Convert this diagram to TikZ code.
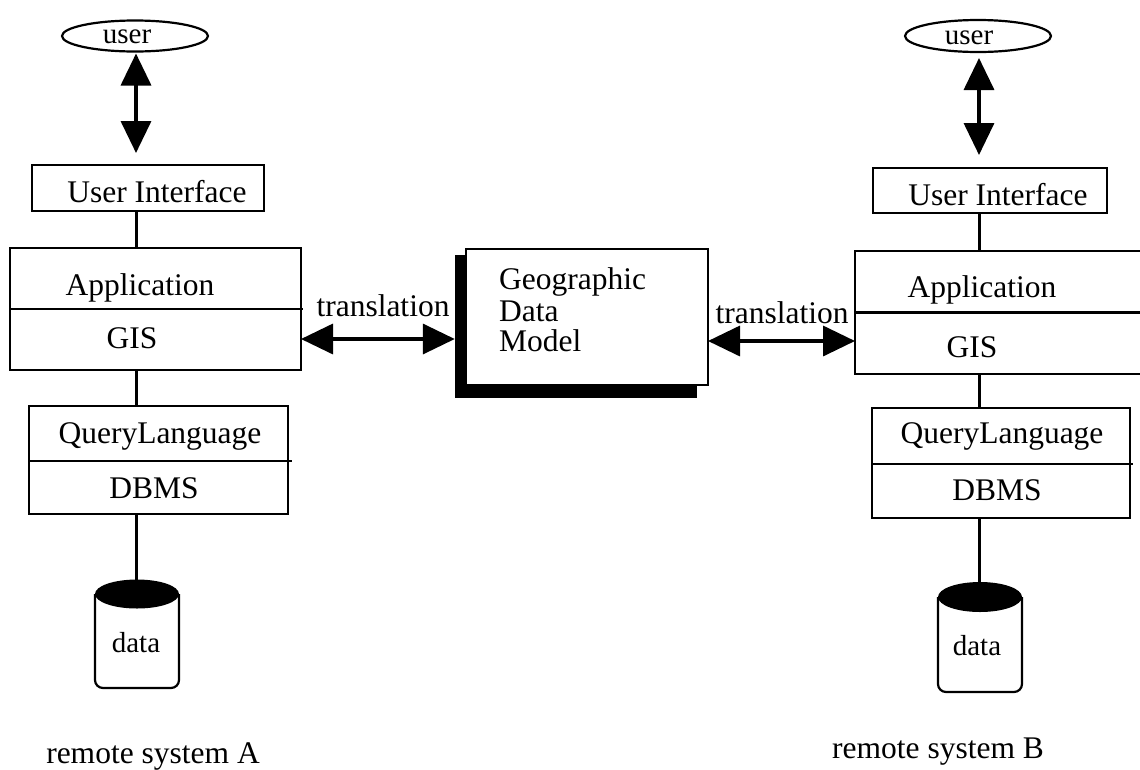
\documentclass[tikz,border=0pt]{standalone}
\usepackage{fontspec}
\setmainfont{Liberation Serif}
\usetikzlibrary{arrows.meta,shapes.geometric}
\begin{document}
\begin{tikzpicture}[x=1pt,y=-1pt,
  box/.style={draw, line width=2.2pt, fill=white, inner sep=0pt, outer sep=0pt},
  oval/.style={draw, ellipse, line width=2.2pt, inner sep=0pt, outer sep=0pt},
  lbl/.style={anchor=base, inner sep=0pt, font=\fontsize{31.5}{32}\selectfont},
  small/.style={lbl, font=\fontsize{29}{30}\selectfont},
  link/.style={line width=3pt},
  dbl/.style={line width=3.5pt, {Triangle[width=30pt,length=32pt]}-{Triangle[width=30pt,length=32pt]}},
  drum/.style={line width=2.2pt, rounded corners=8pt, fill=white}]
\useasboundingbox (0,0) rectangle (1140,769);
\clip (0,0) rectangle (1140,769);

% ---------- remote system A ----------
\coordinate (spA) at (136,0);
\node[oval, minimum width=146pt, minimum height=31pt] (userA) at (135,36) {};
\node[box, minimum width=232pt, minimum height=46pt] (uiA) at (148,188) {};
\node[box, minimum width=291pt, minimum height=122pt] (appA) at (155.5,309) {};
\node[box, minimum width=259pt, minimum height=108pt] (qlA) at (158.5,460) {};
\draw[line width=2.5pt] (appA.west) -- ++(293,0);
\draw[line width=2.5pt] (qlA.west |- 0,461) -- ++(263,0);

% database drum A
\draw[drum] (95,594) -- (95,688) -- (179,688) -- (179,594);
\fill (137,594) ellipse [x radius=42, y radius=14.5];
\coordinate (dbA) at (136,580);

\draw[dbl, shorten <=2pt, shorten >=12pt] (userA.south -| spA) -- (uiA.north -| spA);
\draw[link] (uiA.south -| spA) -- (appA.north -| spA);
\draw[link] (appA.south -| spA) -- (qlA.north -| spA);
\draw[link] (qlA.south -| spA) -- (dbA);

\node[small] (tuserA) at (127,43) {user};
\node[lbl] (tuiA) at (157,202) {User Interface};
\node[lbl] (tappA) at (140,295) {Application};
\node[lbl] (tgisA) at (132,348) {GIS};
\node[lbl] (tqlA) at (160,443) {QueryLanguage};
\node[lbl] (tdbA) at (154,498) {DBMS};
\node[small] (tdataA) at (136,652) {data};
\node[lbl] (remA) at (153,763) {remote system A};

% ---------- shared data model ----------
\node[fill=black, inner sep=0pt, minimum width=242pt, minimum height=143pt] (geoS) at (576,326.5) {};
\node[box, minimum width=242pt, minimum height=136pt] (geo) at (587,317) {};
\node[lbl, anchor=base west] (g1) at (499,289) {Geographic};
\node[lbl, anchor=base west] (g2) at (499,321) {Data};
\node[lbl, anchor=base west] (g3) at (499,351) {Model};

% ---------- remote system B ----------
\coordinate (spB) at (979,0);
\node[oval, minimum width=146pt, minimum height=32pt] (userB) at (978,36) {};
\node[box, minimum width=234pt, minimum height=45pt] (uiB) at (990,190.5) {};
\node[box, minimum width=305pt, minimum height=123pt] (appB) at (1007.5,312.5) {};
\node[box, minimum width=258pt, minimum height=110pt] (qlB) at (1001,463) {};
\draw[line width=2.5pt] (appB.west) -- ++(310,0);
\draw[line width=2.5pt] (qlB.west |- 0,464) -- ++(261,0);

% database drum B
\draw[drum] (938,597) -- (938,692) -- (1022,692) -- (1022,597);
\fill (980,597) ellipse [x radius=42, y radius=15];
\coordinate (dbB) at (979,582);

\draw[dbl, shorten <=6pt, shorten >=13pt] (userB.south -| spB) -- (uiB.north -| spB);
\draw[link] (uiB.south -| spB) -- (appB.north -| spB);
\draw[link] (appB.south -| spB) -- (qlB.north -| spB);
\draw[link] (qlB.south -| spB) -- (dbB);

\node[small] (tuserB) at (969,44) {user};
\node[lbl] (tuiB) at (998,205) {User Interface};
\node[lbl] (tappB) at (982,297) {Application};
\node[lbl] (tgisB) at (972,357) {GIS};
\node[lbl] (tqlB) at (1002,443) {QueryLanguage};
\node[lbl] (tdbB) at (997,500) {DBMS};
\node[small] (tdataB) at (977,655) {data};
\node[lbl] (remB) at (938,758) {remote system B};

% ---------- translations ----------
\coordinate (trA) at (0,339);
\coordinate (trB) at (0,341);
\draw[dbl] (appA.east |- trA) -- (geoS.west |- trA);
\draw[dbl] (geo.east |- trB) -- (appB.west |- trB);
\node[lbl] (tlA) at (383,316) {translation};
\node[lbl] (tlB) at (782,323) {translation};
\end{tikzpicture}
\end{document}
